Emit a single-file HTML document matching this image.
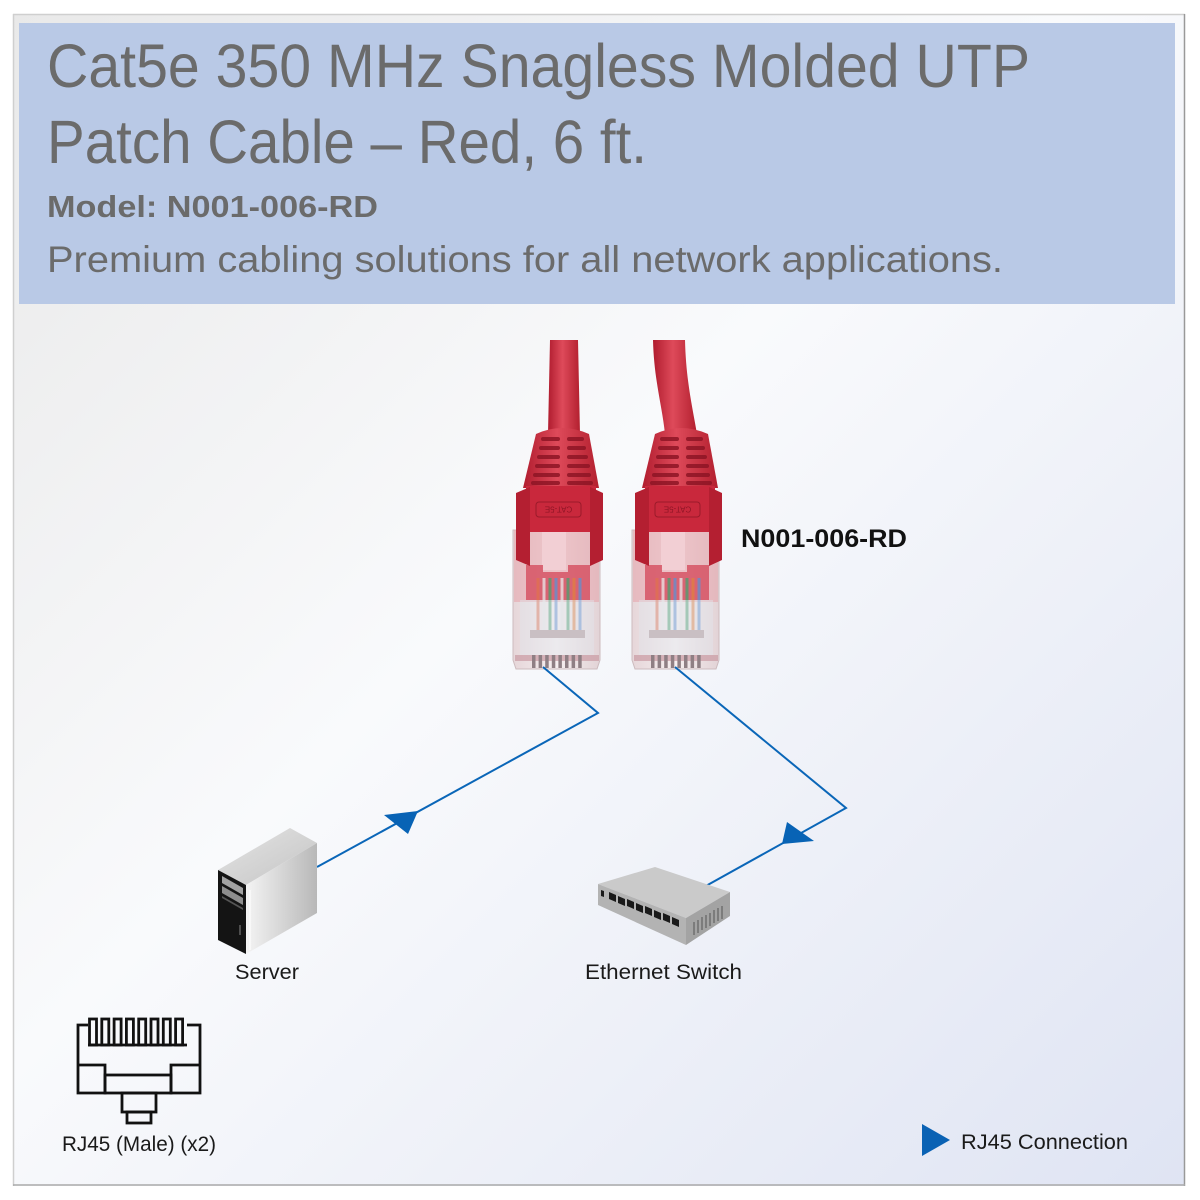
<!DOCTYPE html>
<html><head><meta charset="utf-8"><style>
html,body{margin:0;padding:0;background:#fff;}
svg{display:block;}
text{font-family:"Liberation Sans",sans-serif;}
</style></head><body>
<svg width="1200" height="1200" viewBox="0 0 1200 1200" xmlns="http://www.w3.org/2000/svg">
<defs>
<linearGradient id="bg" x1="0" y1="0" x2="1" y2="1">
<stop offset="0" stop-color="#e9e9e9"/>
<stop offset="0.45" stop-color="#f9fafc"/>
<stop offset="1" stop-color="#dfe4f3"/>
</linearGradient>
<linearGradient id="red" x1="0" y1="0" x2="1" y2="0">
<stop offset="0" stop-color="#b01c2e"/>
<stop offset="0.45" stop-color="#de4a5a"/>
<stop offset="1" stop-color="#b3202f"/>
</linearGradient>
<linearGradient id="clear" x1="0" y1="0" x2="1" y2="0">
<stop offset="0" stop-color="#e6d6d9"/>
<stop offset="0.5" stop-color="#f6eff0"/>
<stop offset="1" stop-color="#e2d3d6"/>
</linearGradient>
<linearGradient id="side" x1="0" y1="0" x2="1" y2="0">
<stop offset="0" stop-color="#f4f4f4"/>
<stop offset="1" stop-color="#b8b8b8"/>
</linearGradient>
<linearGradient id="top" x1="0" y1="0" x2="1" y2="1">
<stop offset="0" stop-color="#e4e4e4"/>
<stop offset="1" stop-color="#c4c4c4"/>
</linearGradient>
<g id="conn">
<!-- boot -->
<path d="M536,434 Q562,422 589,434 L599,488 L523,488 Z" fill="url(#red)"/>
<g fill="#8e1525" opacity="0.85">
<rect x="541" y="437" width="19" height="4" rx="2"/><rect x="567" y="437" width="17" height="4" rx="2"/>
<rect x="539" y="446" width="21" height="4" rx="2"/><rect x="567" y="446" width="19" height="4" rx="2"/>
<rect x="537" y="455" width="23" height="4" rx="2"/><rect x="567" y="455" width="21" height="4" rx="2"/>
<rect x="535" y="464" width="25" height="4" rx="2"/><rect x="567" y="464" width="23" height="4" rx="2"/>
<rect x="533" y="473" width="27" height="4" rx="2"/><rect x="567" y="473" width="24" height="4" rx="2"/>
<rect x="531" y="481" width="29" height="4" rx="2"/><rect x="567" y="481" width="26" height="4" rx="2"/>
</g>
<!-- clear body -->
<path d="M513,530 L600,530 L600,660 L597,669 L516,669 L513,660 Z" fill="url(#clear)" stroke="#cdbbbe" stroke-width="1"/>
<rect x="514" y="530" width="85" height="72" fill="#e6a2aa" opacity="0.55"/>
<rect x="542" y="530" width="24" height="40" fill="#f2cfd4"/>
<path d="M526,565 L543,565 L543,572 L568,572 L568,565 L590,565 L590,600 L526,600 Z" fill="#d44c5e" opacity="0.8"/>
<g stroke-width="3" opacity="0.75">
<line x1="538" y1="578" x2="538" y2="630" stroke="#e07050"/>
<line x1="544" y1="578" x2="544" y2="630" stroke="#eaeaea"/>
<line x1="550" y1="578" x2="550" y2="630" stroke="#4aa070"/>
<line x1="556" y1="578" x2="556" y2="630" stroke="#6090d0"/>
<line x1="562" y1="578" x2="562" y2="630" stroke="#eaeaea"/>
<line x1="568" y1="578" x2="568" y2="630" stroke="#4aa070"/>
<line x1="574" y1="578" x2="574" y2="630" stroke="#e08040"/>
<line x1="580" y1="578" x2="580" y2="630" stroke="#6090d0"/>
</g>
<rect x="520" y="600" width="74" height="55" fill="#dfe5ec" opacity="0.45"/>
<rect x="530" y="630" width="55" height="8" fill="#c9bfc3"/>
<rect x="515" y="655" width="84" height="6" fill="#c99aa2" opacity="0.7"/>
<g fill="#8f7f84">
<rect x="532" y="655" width="3.5" height="13"/><rect x="538.6" y="655" width="3.5" height="13"/>
<rect x="545.2" y="655" width="3.5" height="13"/><rect x="551.8" y="655" width="3.5" height="13"/>
<rect x="558.4" y="655" width="3.5" height="13"/><rect x="565" y="655" width="3.5" height="13"/>
<rect x="571.6" y="655" width="3.5" height="13"/><rect x="578.2" y="655" width="3.5" height="13"/>
</g>
<!-- tab -->
<rect x="526" y="486" width="70" height="46" fill="#c9283c"/>
<rect x="536" y="502" width="45" height="15" rx="3" fill="none" stroke="#9a1a2a" stroke-width="1"/>
<text x="558.5" y="509.5" font-size="8" fill="#8e1525" text-anchor="middle" transform="rotate(180 558.5 509.5)" dy="3">CAT-5E</text>
<path d="M516,493 L530,487 L530,566 L516,560 Z" fill="#b41f31"/>
<path d="M590,487 L603,493 L603,560 L590,566 Z" fill="#b41f31"/>
</g>
</defs>

<!-- frame -->
<rect x="13" y="14" width="1172" height="1172" fill="url(#bg)"/>
<line x1="13.5" y1="14" x2="13.5" y2="1186" stroke="#cfcfcf" stroke-width="1.5"/>
<line x1="13" y1="14.5" x2="1185" y2="14.5" stroke="#cfcfcf" stroke-width="1.5"/>
<line x1="1184.5" y1="14" x2="1184.5" y2="1186" stroke="#999" stroke-width="1.5"/>
<line x1="13" y1="1185" x2="1185" y2="1185" stroke="#aaa" stroke-width="1.5"/>

<!-- header -->
<rect x="19" y="23" width="1156" height="281" fill="#b9c9e6"/>
<text x="47" y="87" font-size="61" fill="#6b6b6b" textLength="983" lengthAdjust="spacingAndGlyphs">Cat5e 350 MHz Snagless Molded UTP</text>
<text x="47" y="163" font-size="61" fill="#6b6b6b" textLength="600" lengthAdjust="spacingAndGlyphs">Patch Cable – Red, 6 ft.</text>
<text x="47" y="217" font-size="31" font-weight="bold" fill="#6b6b6b" textLength="331" lengthAdjust="spacingAndGlyphs">Model: N001-006-RD</text>
<text x="47" y="272" font-size="37" fill="#6b6b6b" textLength="956" lengthAdjust="spacingAndGlyphs">Premium cabling solutions for all network applications.</text>

<!-- cables -->
<path d="M550,340 L578,340 L580,434 L548,434 Z" fill="url(#red)"/>
<path d="M653,340 L685,340 C686,380 692,405 697,434 L665,434 C662,405 654,380 653,340 Z" fill="url(#red)"/>
<use href="#conn"/>
<use href="#conn" transform="translate(119,0)"/>

<text x="741" y="547" font-size="25" font-weight="bold" fill="#111" textLength="166" lengthAdjust="spacingAndGlyphs">N001-006-RD</text>

<!-- connectors -->
<g fill="none" stroke="#0a66b8" stroke-width="2">
<polyline points="543,667 598,713 317,867"/>
<polyline points="675,667 846,808 704,887"/>
</g>
<polygon points="418,811 384,815 408,834" fill="#0863b5"/>
<polygon points="782,844 787,822 814,841" fill="#0863b5"/>

<!-- server -->
<polygon points="218,870 290,828 317,843 246,885" fill="url(#top)"/>
<polygon points="246,885 317,843 317,913 246,954" fill="url(#side)"/>
<polyline points="250,890 250,950" stroke="#fafafa" stroke-width="1.5"/>
<polygon points="218,870 246,885 246,954 218,940" fill="#141414"/>
<polygon points="222,876 243,888 243,895 222,883" fill="#a2a2a2"/>
<polygon points="222,886 243,898 243,905 222,893" fill="#8e8e8e"/>
<polygon points="222,896 243,908 243,910 222,898" fill="#555"/>
<line x1="240" y1="925" x2="240" y2="935" stroke="#888" stroke-width="1"/>
<text x="235" y="979" font-size="21" fill="#1a1a1a" textLength="64" lengthAdjust="spacingAndGlyphs">Server</text>

<!-- switch -->
<polygon points="598,884 655,867 730,892 686,918" fill="#cacaca"/>
<polygon points="598,884 686,918 686,945 598,905" fill="#b3b3b3"/>
<polygon points="686,918 730,892 730,916 686,945" fill="#a3a3a3"/>
<g fill="#1a1a1a">
<polygon points="601,890 604,891 604,897 601,896"/>
<polygon points="609,892 616,895 616,902 609,899"/>
<polygon points="618,896 625,899 625,906 618,903"/>
<polygon points="627,899 634,902 634,909 627,906"/>
<polygon points="636,903 643,906 643,913 636,910"/>
<polygon points="645,906 652,909 652,916 645,913"/>
<polygon points="654,910 661,913 661,920 654,917"/>
<polygon points="663,913 670,916 670,923 663,920"/>
<polygon points="672,917 679,920 679,927 672,924"/>
</g>
<g stroke="#555" stroke-width="1">
<line x1="694" y1="922" x2="694" y2="935"/><line x1="698" y1="920" x2="698" y2="933"/>
<line x1="702" y1="917" x2="702" y2="930"/><line x1="706" y1="915" x2="706" y2="928"/>
<line x1="710" y1="913" x2="710" y2="926"/><line x1="714" y1="910" x2="714" y2="923"/>
<line x1="718" y1="908" x2="718" y2="921"/><line x1="722" y1="906" x2="722" y2="919"/>
</g>
<text x="585" y="979" font-size="21" fill="#1a1a1a" textLength="157" lengthAdjust="spacingAndGlyphs">Ethernet Switch</text>

<!-- RJ45 icon -->
<g fill="none" stroke="#111" stroke-width="2.8">
<path d="M88,1025 L78,1025 L78,1093 L105,1093 L105,1065 L78,1065"/>
<path d="M187,1025 L200,1025 L200,1093 L171,1093 L171,1065 L200,1065"/>
<rect x="105" y="1075" width="66" height="18"/>
<rect x="122" y="1093" width="34" height="19"/>
<rect x="127" y="1112" width="24" height="11"/>
<line x1="88" y1="1045" x2="187" y2="1045"/>
<rect x="89.5" y="1019" width="7" height="26"/>
<rect x="101.8" y="1019" width="7" height="26"/>
<rect x="114.1" y="1019" width="7" height="26"/>
<rect x="126.4" y="1019" width="7" height="26"/>
<rect x="138.7" y="1019" width="7" height="26"/>
<rect x="151" y="1019" width="7" height="26"/>
<rect x="163.3" y="1019" width="7" height="26"/>
<rect x="175.6" y="1019" width="7" height="26"/>
</g>
<text x="62" y="1151" font-size="21" fill="#1a1a1a" textLength="154" lengthAdjust="spacingAndGlyphs">RJ45 (Male) (x2)</text>

<!-- legend -->
<polygon points="922,1124 922,1156 950,1140" fill="#0a62b4"/>
<text x="961" y="1149" font-size="21" fill="#1a1a1a" textLength="167" lengthAdjust="spacingAndGlyphs">RJ45 Connection</text>
</svg>
</body></html>
